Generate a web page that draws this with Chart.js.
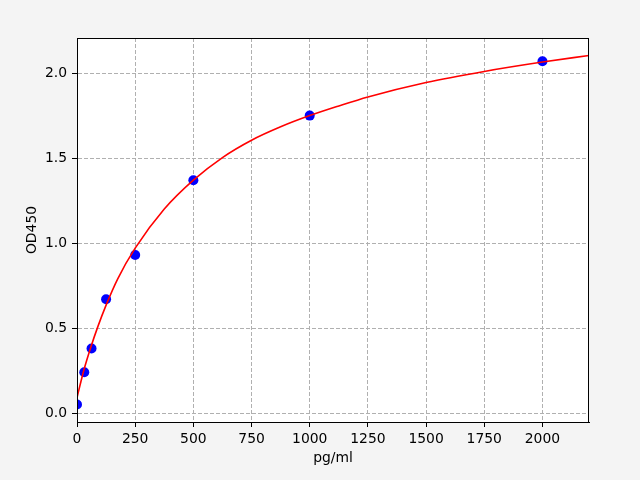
<!DOCTYPE html>
<html>
<head>
<meta charset="utf-8">
<script src="https://cdn.jsdelivr.net/npm/chart.js@4/dist/chart.umd.min.js"></script>
<style>
  html, body { margin: 0; padding: 0; background: #f4f4f4; }
  canvas { display: block; }
</style>
</head>
<body>
<canvas id="curve" width="640" height="480"></canvas>
<script>
// standard points
const concentrations = [0, 31.25, 62.5, 125, 250, 500, 1000, 2000];
const odValues = [0.05, 0.24, 0.38, 0.67, 0.93, 1.37, 1.75, 2.07];

// fitted curve
const curveX = [0, 15, 30, 60, 90, 125, 175, 250, 375, 500, 625, 750, 875, 1000, 1125, 1250, 1500, 1750, 2000, 2200];
const curveY = [0.09, 0.175, 0.255, 0.39, 0.51, 0.635, 0.79, 0.97, 1.20, 1.37, 1.503, 1.605, 1.684, 1.75, 1.807, 1.86, 1.945, 2.01, 2.065, 2.104];

const xTicks = [0, 250, 500, 750, 1000, 1250, 1500, 1750, 2000];
const yTicks = [0.0, 0.5, 1.0, 1.5, 2.0];

const font = { family: "DejaVu Sans", size: 13.9 };

const frame = {
    id: "frame",
    beforeDraw(chart) {
        const { ctx, chartArea: a } = chart;
        ctx.save();
        ctx.fillStyle = "#f4f4f4";
        ctx.fillRect(0, 0, chart.width, chart.height);
        ctx.fillStyle = "#ffffff";
        ctx.fillRect(a.left, a.top, a.right - a.left, a.bottom - a.top);
        ctx.restore();
    },
    afterDraw(chart) {
        const { ctx, chartArea: a } = chart;
        ctx.save();
        ctx.strokeStyle = "#000";
        ctx.lineWidth = 1;
        ctx.setLineDash([]);
        ctx.strokeRect(a.left + 0.5, a.top + 0.5, a.right - a.left - 1, a.bottom - a.top);
        ctx.restore();
    }
};

new Chart(document.getElementById("curve").getContext("2d"), {
    type: "scatter",
    data: {
        datasets: [{
            data: curveX.map((x, i) => ({ x: x, y: curveY[i] })),
            showLine: true,
            borderColor: "#ff0000",
            borderWidth: 1.6,
            pointRadius: 0,
            cubicInterpolationMode: "monotone",
            order: 0
        }, {
            data: concentrations.map((x, i) => ({ x: x, y: odValues[i] })),
            backgroundColor: "#0000ff",
            borderWidth: 0,
            pointRadius: 5,
            order: 1
        }]
    },
    options: {
        responsive: false,
        devicePixelRatio: 1,
        animation: false,
        layout: { padding: { left: 0, top: 38, right: 51, bottom: 0 } },
        plugins: { legend: { display: false }, tooltip: { enabled: false } },
        scales: {
            x: {
                type: "linear",
                min: 0,
                max: 2200,
                afterFit: s => { s.height = 58; },
                afterBuildTicks: s => { s.ticks = xTicks.map(v => ({ value: v })); },
                ticks: { color: "#000", font: font, padding: 4, maxRotation: 0, callback: v => String(v) },
                grid: { color: "#b0b0b0", lineWidth: 1, tickLength: 5, tickColor: "#000", tickBorderDash: [] },
                border: { color: "#000", dash: [4, 2] },
                title: { display: true, text: "pg/ml", color: "#000", font: font, padding: { top: 0, bottom: 13 } }
            },
            y: {
                type: "linear",
                min: -0.0527,
                max: 2.2067,
                afterFit: s => { s.width = 77; },
                afterBuildTicks: s => { s.ticks = yTicks.map(v => ({ value: v })); },
                ticks: { color: "#000", font: font, padding: 5, callback: v => v.toFixed(1) },
                grid: { color: "#b0b0b0", lineWidth: 1, tickLength: 5, tickColor: "#000", tickBorderDash: [] },
                border: { color: "#000", dash: [4, 2] },
                title: { display: true, text: "OD450", color: "#000", font: font, padding: { top: 24, bottom: 0 } }
            }
        }
    },
    plugins: [frame]
});
</script>
</body>
</html>
